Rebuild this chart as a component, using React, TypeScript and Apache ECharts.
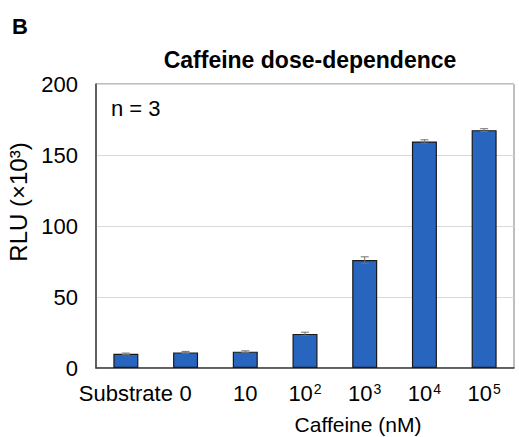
import React, { useEffect, useRef } from "react";
import * as echarts from "echarts";

const categories = ["Substrate", "0", "10", "10^2", "10^3", "10^4", "10^5"];
const values = [10, 11, 11.5, 24, 76, 159.5, 167.5];
const errors = [0.5, 0.7, 0.6, 1.2, 2.3, 1.2, 1.0];
const yTicks = [0, 50, 100, 150, 200];

const FONT = "Liberation Sans, Arial, sans-serif";

function fmtCat(c: string) {
  const m = c.match(/^10\^(\d)$/);
  if (m) return "{b|10}{s|" + m[1] + "}";
  return "{b|" + c + "}";
}

export default function App() {
  const ref = useRef<HTMLDivElement>(null);
  useEffect(() => {
    const chart = echarts.init(ref.current!, null, { renderer: "svg" });
    chart.setOption({
      animation: false,
      textStyle: { fontFamily: FONT },
      title: [
        {
          text: "Caffeine dose-dependence",
          left: 305,
          top: 43,
          textAlign: "center",
          textStyle: { fontSize: 23, fontWeight: "bold", color: "#000", fontFamily: FONT },
        },
      ],
      graphic: [
        {
          type: "text",
          left: 12,
          top: 15,
          style: { text: "B", fontSize: 22, fontWeight: "bold", fill: "#000", fontFamily: FONT },
        },
        {
          type: "text",
          left: 111,
          top: 97,
          style: { text: "n = 3", fontSize: 22, fill: "#000", fontFamily: FONT },
        },
      ],
      grid: {
        left: 96,
        top: 84,
        width: 418,
        height: 284,
        show: true,
        borderColor: "#7f7f7f",
        borderWidth: 1,
        containLabel: false,
        outerBoundsMode: "none",
      },
      xAxis: {
        type: "category",
        data: categories,
        axisLine: { show: true, lineStyle: { color: "#404040", width: 1.5 } },
        axisTick: { show: false },
        axisLabel: {
          interval: 0,
          margin: 10,
          formatter: (v: string) => fmtCat(v),
          rich: {
            b: { fontSize: 22, color: "#000", fontFamily: FONT, lineHeight: 26, verticalAlign: "bottom" },
            s: { fontSize: 14, color: "#000", fontFamily: FONT, lineHeight: 18, verticalAlign: "top", padding: [4, 0, 0, 1] },
          },
        },
        name: "Caffeine (nM)",
        nameLocation: "middle",
        nameGap: 46,
        nameTextStyle: { fontSize: 21, color: "#000", fontFamily: FONT, padding: [0, 0, 0, 106] },
      },
      yAxis: {
        type: "value",
        min: yTicks[0],
        max: yTicks[yTicks.length - 1],
        interval: 50,
        axisLine: { show: true, lineStyle: { color: "#404040", width: 1.5 } },
        axisTick: { show: false },
        axisLabel: { fontSize: 22, color: "#000", margin: 18, fontFamily: FONT },
        splitLine: { show: true, lineStyle: { color: "#d9d9d9", width: 1 } },
        name: "RLU (×10³)",
        nameLocation: "middle",
        nameGap: 63,
        nameTextStyle: { fontSize: 24, color: "#000", fontFamily: FONT, padding: [0, 0, 0, 48] },
      },
      series: [
        {
          type: "bar",
          data: values,
          barWidth: 25,
          itemStyle: { color: "#2865be", borderColor: "#1a1a1a", borderWidth: 1.2 },
        },
        {
          type: "custom",
          data: values.map((v, i) => [i, v - errors[i], v + errors[i]]),
          z: 10,
          renderItem: (params: any, api: any) => {
            const x = api.value(0);
            const lo = api.coord([x, api.value(1)]);
            const hi = api.coord([x, api.value(2)]);
            const cx = lo[0];
            const w = 4;
            const style = { stroke: "#707070", lineWidth: 1 };
            return {
              type: "group",
              children: [
                { type: "line", shape: { x1: cx, y1: lo[1], x2: cx, y2: hi[1] }, style },
                { type: "line", shape: { x1: cx - w, y1: hi[1], x2: cx + w, y2: hi[1] }, style },
                { type: "line", shape: { x1: cx - w, y1: lo[1], x2: cx + w, y2: lo[1] }, style },
              ],
            };
          },
        },
      ],
    });
    return () => chart.dispose();
  }, []);
  return (
    <div
      ref={ref}
      style={{ position: "fixed", left: 0, top: 0, width: 519, height: 437, background: "#fff" }}
    />
  );
}
